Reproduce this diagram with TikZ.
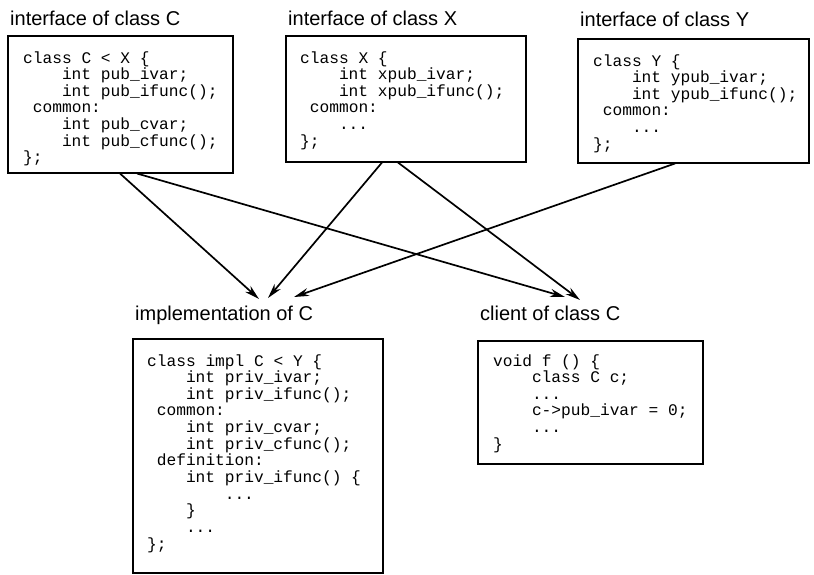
\documentclass[tikz,border=0pt]{standalone}
\usepackage{fontspec}
\usetikzlibrary{arrows.meta}
\newfontfamily\codefamily{Liberation Mono}
\newfontfamily\labfamily{Liberation Sans}
\newdimen\codewd
\codewd=9.7pt
\newcommand\cind[1]{\hspace*{#1\codewd}}
\newcommand\codefont{\codefamily\fontsize{16.2}{16.5}\selectfont}
\tikzset{
  box/.style={draw, line width=1.5pt, anchor=north west, inner sep=0pt},
  code/.style={anchor=base west, inner sep=0pt, font=\codefont},
  lab/.style={anchor=base west, inner sep=0pt, font=\labfamily\fontsize{20}{23}\selectfont},
  arr/.style={line width=1.7pt, -{Stealth[length=15pt,width=8pt]}}
}
\begin{document}
\begin{tikzpicture}[x=1pt,y=-1pt]
\useasboundingbox (0,0) rectangle (814,574);
% labels
\node[lab] (labC) at (10,25) {interface of class C};
\node[lab] (labX) at (288,25) {interface of class X};
\node[lab] (labY) at (580,26) {interface of class Y};
\node[lab] (labI) at (135,320) {implementation of C};
\node[lab] (labK) at (480,320) {client of class C};
% boxes
\node[box, minimum width=225pt, minimum height=137pt] (C) at (7,35) {};
\node[box, minimum width=240pt, minimum height=126pt] (X) at (285,35) {};
\node[box, minimum width=231pt, minimum height=124pt] (Y) at (577,38) {};
\node[box, minimum width=250pt, minimum height=234pt] (I) at (132,338) {};
\node[box, minimum width=225pt, minimum height=123pt] (K) at (477,340) {};
% code
\node[code] (codeC) at (23,63) {\begin{tabular}[t]{@{}l@{}}
class C < X \{\\
\cind{4}int pub\_ivar;\\
\cind{4}int pub\_ifunc();\\
\cind{1}common:\\
\cind{4}int pub\_cvar;\\
\cind{4}int pub\_cfunc();\\
\};
\end{tabular}};
\node[code] (codeX) at (300,63) {\begin{tabular}[t]{@{}l@{}}
class X \{\\
\cind{4}int xpub\_ivar;\\
\cind{4}int xpub\_ifunc();\\
\cind{1}common:\\
\cind{4}...\\
\};
\end{tabular}};
\node[code] (codeY) at (593,66) {\begin{tabular}[t]{@{}l@{}}
class Y \{\\
\cind{4}int ypub\_ivar;\\
\cind{4}int ypub\_ifunc();\\
\cind{1}common:\\
\cind{4}...\\
\};
\end{tabular}};
\node[code] (codeI) at (147,366) {\begin{tabular}[t]{@{}l@{}}
class impl C < Y \{\\
\cind{4}int priv\_ivar;\\
\cind{4}int priv\_ifunc();\\
\cind{1}common:\\
\cind{4}int priv\_cvar;\\
\cind{4}int priv\_cfunc();\\
\cind{1}definition:\\
\cind{4}int priv\_ifunc() \{\\
\cind{8}...\\
\cind{4}\}\\
\cind{4}...\\
\};
\end{tabular}};
\node[code] (codeK) at (493,366) {\begin{tabular}[t]{@{}l@{}}
void f () \{\\
\cind{4}class C c;\\
\cind{4}...\\
\cind{4}c->pub\_ivar = 0;\\
\cind{4}...\\
\}
\end{tabular}};
% arrow tips
\coordinate (t1) at (259,299);
\coordinate (t2) at (268,298);
\coordinate (t3) at (294,297);
\coordinate (t4) at (565,297);
\coordinate (t5) at (580,300);
% arrows
\draw[arr] ([xshift=113pt]C.south west) -- (t1);
\draw[arr] ([xshift=130pt]C.south west) -- (t4);
\draw[arr] ([xshift=97pt]X.south west) -- (t2);
\draw[arr] ([xshift=113pt]X.south west) -- (t5);
\draw[arr] ([xshift=98pt]Y.south west) -- (t3);
\end{tikzpicture}
\end{document}
